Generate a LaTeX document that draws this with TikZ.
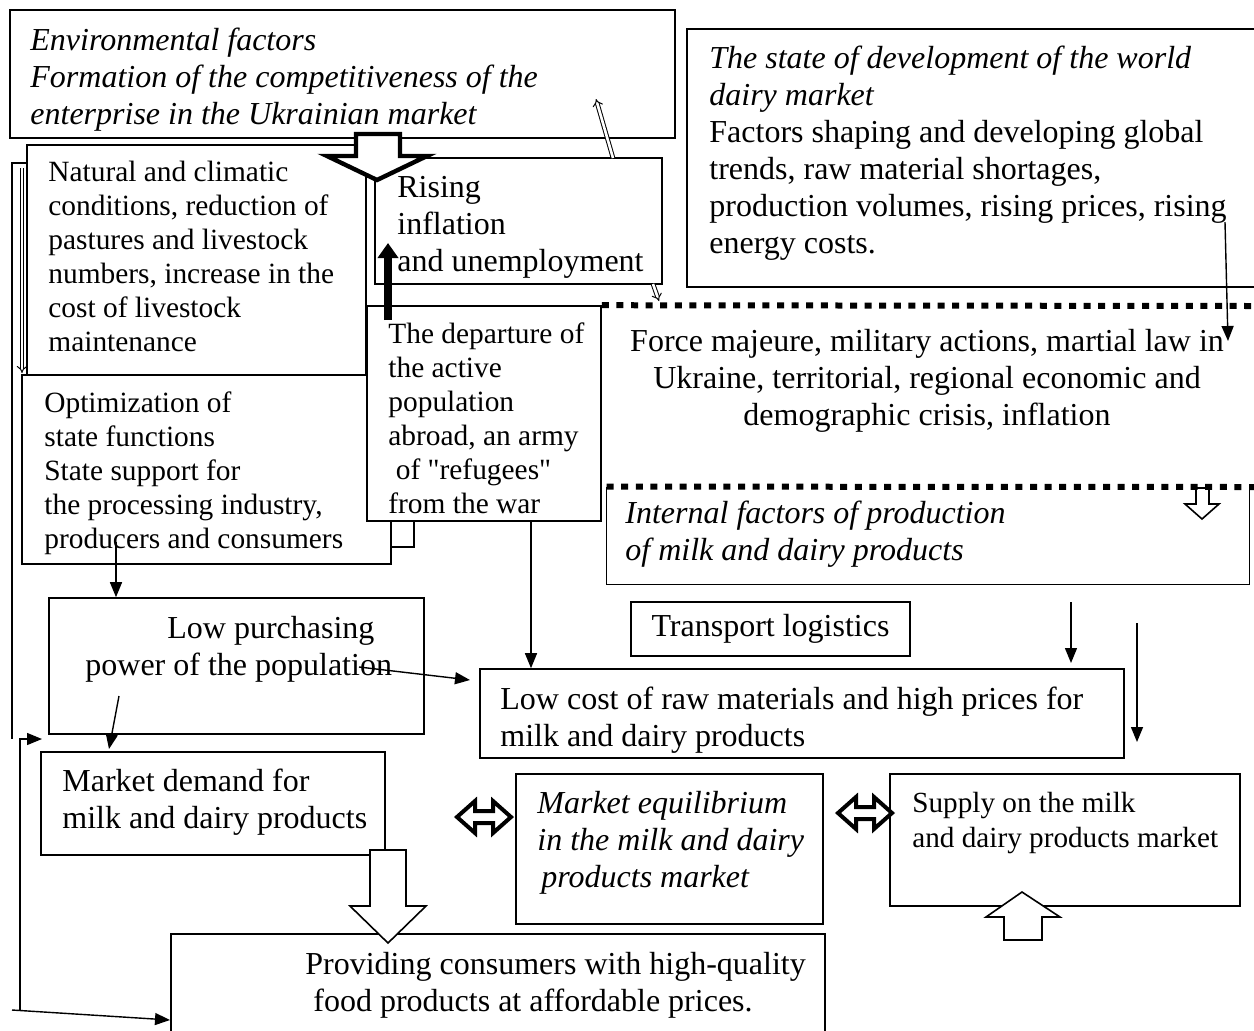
\documentclass[tikz,border=0pt]{standalone}
\usepackage{fontspec}
\setmainfont{Liberation Serif}[Ligatures=TeXOff]
\usetikzlibrary{fit,arrows.meta}

\tikzset{
  frame/.style={draw, line width=0.8pt, fill=white, inner sep=0pt},
  txt/.style={anchor=north west, align=left, inner sep=0pt, font=\fontsize{16}{18.5}\selectfont},
  smalltxt/.style={anchor=north west, align=left, inner sep=0pt, font=\fontsize{14.7}{17}\selectfont},
  link/.style={-{Triangle[length=7.5pt,width=6pt]}, line width=0.7pt},
  hollow/.style={double, double distance=1.3pt, line width=0.5pt, -{Implies}},
  block/.style={draw, fill=white, line width=0.8pt},
  heavyblock/.style={draw, fill=white, line width=2.2pt},
  dots/.style={line width=3pt, dash pattern=on 3.5pt off 3.8pt},
}

\begin{document}
\begin{tikzpicture}[x=0.5pt,y=-0.5pt]
    \useasboundingbox (0,0) rectangle (1254,1030);
    % left frame behind the upper boxes
    \coordinate (fa) at (12,163);
    \coordinate (fb) at (12,739);
    \draw[line width=0.8pt] (60,163) -- (fa) -- (fb);
    % top blocks
    \node (env) [frame, fit={(10,10) (675,138)}] {};
    \node (envtxt) [txt] at (30,28) {\itshape Environmental factors\\ \itshape Formation of the competitiveness of the\\ \itshape enterprise in the Ukrainian market};
    \node (state) [frame, fit={(687,29) (1258,287)}] {};
    \node (statetxt) [txt] at (709,46) {\textit{The state of development of the world}\\ \textit{dairy market}\\ Factors shaping and developing global\\ trends, raw material shortages,\\ production volumes, rising prices, rising\\ energy costs.};
    \node (nat) [frame, fit={(27,145) (366,375)}] {};
    \node (nattxt) [smalltxt] at (48,161) {Natural and climatic\\ conditions, reduction of\\ pastures and livestock\\ numbers, increase in the\\ cost of livestock\\ maintenance};
    \node (rise) [frame, fit={(375,158) (662,284)}] {};
    \node (risetxt) [txt] at (397,176) {Rising\\ inflation\\ and unemployment};
    % hollow thin arrows
    \coordinate (r1) at (613,158);
    \coordinate (r2) at (596,99);
    \coordinate (r3) at (653,284);
    \coordinate (r4) at (659,301);
    \coordinate (n1) at (22,168);
    \coordinate (n2) at (22,373);
    \draw[hollow] (r1) -- (r2);
    \draw[hollow] (r3) -- (r4);
    \draw[hollow] (n1) -- (n2);
    % heavy arrow from the environment block
    \draw[heavyblock] (356,134) -- (356,156) -- (327,156) -- (377,180) -- (427,156) -- (400,156) -- (400,134) -- cycle;
    % state functions and migration
    \draw[line width=0.8pt] (380,480) rectangle (414,547);
    \node (opt) [frame, fit={(22,375) (391,564)}] {};
    \node (opttxt) [smalltxt] at (44,391) {Optimization of\\ state functions\\ State support for\\ the processing industry,\\ producers and consumers};
    \node (dep) [frame, fit={(367,306) (601,521)}] {};
    \node (deptxt) [smalltxt] at (388,322) {The departure of\\ the active\\ population\\ abroad, an army\\ \hspace{3.7pt}of "refugees"\\ from the war};
    \coordinate (d0) at (388,320);
    \draw[line width=4pt, -{Triangle[length=7.5pt,width=10pt]}] (d0) -- (388,243);
    % force majeure band
    \draw[dots] (dep.north east) -- (1254,306);
    \node (force) [txt, anchor=north, align=center] at (927,329) {Force majeure, military actions, martial law in\\ Ukraine, territorial, regional economic and\\ demographic crisis, inflation};
    \coordinate (s1) at (1225,222);
    \coordinate (s2) at (1228,341);
    \draw[link] (s1) -- (s2);
    % internal factors
    \node (intl) [inner sep=0pt, fit={(607,487) (1249,584)}] {};
    \draw[line width=0.8pt] (intl.north west) -- (intl.south west) -- (intl.south east) -- (intl.north east);
    \draw[block] (1196,488) -- (1196,504) -- (1185,504) -- (1202,519) -- (1219,504) -- (1209,504) -- (1209,488) -- cycle;
    \draw[dots] (intl.north west) -- (1254,487);
    \node (intltxt) [txt] at (625,501) {\itshape Internal factors of production\\ \itshape of milk and dairy products};
    % middle row
    \node (transp) [frame, minimum width=139.5pt, minimum height=27pt, font=\fontsize{16}{18.5}\selectfont] at (770.5,629) {Transport logistics};
    \node (lowcost) [frame, fit={(480,669) (1124,758)}] {};
    \node (lowcosttxt) [txt] at (500,687) {Low cost of raw materials and high prices for\\ milk and dairy products};
    \node (lowp) [frame, fit={(49,598) (424,734)}] {};
    \node (lowptxt) [txt] at (85,616) {\hspace{41pt}Low purchasing\\ power of the population};
    \node (demand) [frame, fit={(41,752) (385,855)}] {};
    \node (demandtxt) [txt] at (62,769) {Market demand for\\ milk and dairy products};
    \coordinate (o1) at (116,542);
    \coordinate (p1) at (119,696);
    \coordinate (p2) at (109,749);
    \coordinate (p3) at (359,667);
    \coordinate (p4) at (470,680);
    \coordinate (d1) at (531,521);
    \coordinate (t1) at (1071,602);
    \coordinate (t2) at (1071,663);
    \coordinate (t3) at (1137,623);
    \coordinate (t4) at (1137,742);
    \draw[link] (o1) -- (o1 |- lowp.north);
    \draw[link] (p1) -- (p2);
    \draw[link] (p3) -- (p4);
    \draw[link] (d1) -- (d1 |- lowcost.north);
    \draw[link] (t1) -- (t2);
    \draw[link] (t3) -- (t4);
    % left return lines
    \coordinate (la) at (20,739);
    \coordinate (lb) at (20,1010);
    \coordinate (lc) at (12,1010);
    \draw[link] (lb) -- (la) -- (42,739);
    \draw[link] (lc) -- (170,1020);
    % market row
    \node (equil) [frame, fit={(516,774) (823,924)}] {};
    \node (equiltxt) [txt] at (537,791) {\itshape Market equilibrium\\ \itshape in the milk and dairy\\ \itshape\hspace{2pt}products market};
    \node (supply) [frame, fit={(890,774) (1240,906)}] {};
    \node (supplytxt) [txt, font=\fontsize{14.6}{17.5}\selectfont] at (912,792) {Supply on the milk\\ and dairy products market};
    \foreach \cx/\cy in {484/817, 865/813}
        \draw[draw, fill=white, line width=2pt] (\cx-27,\cy) -- ++(18,-16) -- ++(0,10) -- ++(18,0) -- ++(0,-10) -- ++(18,16) -- ++(-18,16) -- ++(0,-10) -- ++(-18,0) -- ++(0,10) -- cycle;
    \draw[block] (1022,892) -- (1060,917) -- (1042,917) -- (1042,940) -- (1004,940) -- (1004,917) -- (986,917) -- cycle;
    % result
    \node (provide) [frame, fit={(171,934) (825,1040)}] {};
    \node (providetxt) [txt] at (305,952) {Providing consumers with high-quality\\ \hspace{4pt}food products at affordable prices.};
    \draw[block] (370,850) -- (370,906) -- (350,906) -- (388,943) -- (426,906) -- (406,906) -- (406,850) -- cycle;
\end{tikzpicture}
\end{document}
